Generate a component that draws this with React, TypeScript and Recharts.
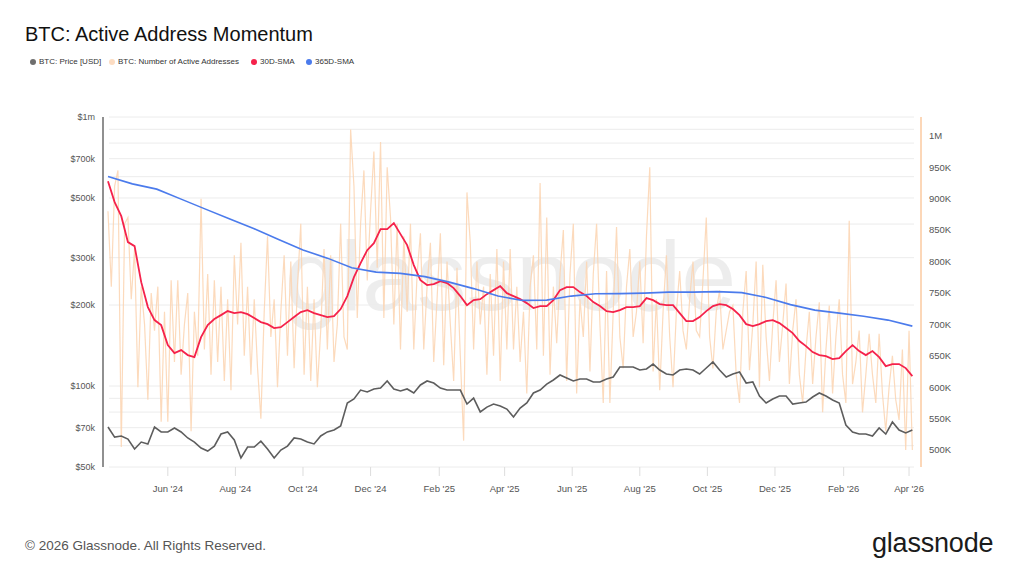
import { ComposedChart, Line, XAxis, YAxis, CartesianGrid } from "recharts";

const FONT = '"Liberation Sans", Arial, Helvetica, sans-serif';
const DAY = 86400000;
const START = Date.UTC(2024, 3, 8);

// BTC price in USD, one value every 6 days from START
const priceUsd = [
  70400, 64600, 65200, 63500, 58300, 61900, 60900, 70400, 67500, 67500,
  69800, 67500, 64100, 61900, 58800, 57300, 59800, 66300, 67500, 63000,
  54000, 59300, 59300, 62400, 58300, 54000, 57800, 59800, 64100, 63500,
  61900, 60900, 65200, 67500, 68600, 71000, 86500, 89500, 96600, 95000,
  97500, 98300, 104400, 97500, 95800, 97500, 94200, 100900, 104400, 102600,
  98300, 96600, 96600, 96600, 85700, 90200, 80100, 83500, 85700, 84300,
  82100, 76700, 82800, 86500, 94200, 96600, 101700, 105300, 109900, 107100,
  104400, 106200, 106200, 103500, 103500, 106200, 108000, 117700, 117700, 117700,
  114700, 115700, 120700, 114700, 110800, 109900, 114700, 115700, 114700, 110800,
  116700, 122800, 114700, 108000, 110800, 112700, 102600, 103500, 91800, 86500,
  89500, 91800, 91800, 85700, 86500, 87200, 91000, 94200, 91800, 88700,
  86500, 71600, 67500, 66300, 66300, 65200, 69800, 66300, 73500, 68600,
  66900, 68600,
];

// number of active addresses (thousands), one value every 3 days
const activeAddressesK = [
  880, 760, 920, 945, 505, 860, 870, 740, 820, 600,
  760, 700, 580, 750, 690, 760, 545, 720, 545, 770,
  640, 770, 620, 700, 750, 530, 720, 650, 900, 660,
  780, 620, 770, 640, 760, 610, 740, 595, 810, 700,
  830, 650, 760, 620, 740, 630, 550, 720, 840, 680,
  740, 600, 720, 810, 650, 800, 630, 760, 860, 620,
  760, 610, 740, 600, 690, 820, 660, 810, 640, 700,
  860, 680, 660, 1010, 920, 710, 860, 945, 770, 880,
  975, 790, 990, 710, 950, 870, 700, 860, 660, 840,
  720, 860, 660, 780, 845, 660, 760, 830, 640, 740,
  845, 635, 800, 700, 610, 790, 650, 515, 910, 830,
  660, 800, 700, 760, 620, 780, 650, 820, 610, 800,
  660, 820, 660, 760, 640, 720, 590, 760, 810, 660,
  925, 650, 870, 620, 760, 670, 780, 850, 610, 780,
  860, 590, 740, 680, 800, 625, 780, 860, 700, 575,
  785, 575, 720, 855, 680, 630, 760, 820, 680, 720,
  800, 670, 840, 950, 625, 740, 595, 720, 810, 680,
  600, 720, 785, 690, 660, 740, 800, 690, 680, 770,
  870, 680, 630, 720, 754, 660, 690, 720, 730, 620,
  575, 720, 785, 627, 700, 800, 600, 795, 680, 610,
  700, 770, 640, 700, 765, 605, 690, 740, 620, 575,
  660, 720, 605, 680, 735, 560, 660, 730, 590, 680,
  740, 620, 575, 865, 605, 640, 690, 560, 620, 685,
  620, 575, 685, 590, 530, 600, 650, 580, 548, 660,
  500, 690, 500,
];

// 30-day SMA of active addresses (thousands), every 6 days
const sma30K = [
  927.9, 894.5, 872.2, 830.9, 824.5, 767.2, 727.5, 706.8, 698.8, 667.0,
  654.3, 659.0, 651.1, 647.9, 679.7, 698.8, 708.4, 714.7, 721.1, 717.9,
  719.5, 716.3, 710.0, 703.6, 700.4, 694.1, 695.6, 703.6, 711.6, 719.5,
  722.7, 717.9, 714.7, 711.6, 713.1, 724.3, 745.0, 775.2, 797.5, 818.1,
  829.3, 851.6, 851.6, 861.1, 843.6, 826.1, 794.3, 770.4, 762.5, 764.1,
  768.8, 765.6, 757.7, 745.0, 730.6, 738.6, 740.2, 748.1, 754.5, 760.9,
  749.7, 745.0, 740.2, 733.8, 725.9, 729.1, 729.1, 738.6, 754.5, 759.3,
  759.3, 751.3, 745.0, 735.4, 729.1, 721.1, 719.5, 722.7, 727.5, 727.5,
  729.1, 741.8, 738.6, 732.2, 730.6, 730.6, 717.9, 705.2, 705.2, 711.6,
  721.1, 729.1, 732.2, 730.6, 724.3, 714.7, 700.4, 697.2, 700.4, 705.2,
  706.8, 702.0, 694.1, 686.1, 673.4, 665.4, 655.9, 651.1, 649.5, 644.7,
  646.3, 657.5, 667.0, 657.5, 651.1, 657.5, 647.9, 633.6, 636.8, 636.8,
  630.4, 617.7,
];

// 365-day SMA of active addresses (thousands), every 22 days
const sma365K = [
  935.4, 923.6, 915.2, 899.3, 883.4, 867.5, 852.0, 834.9, 818.2, 805.4,
  790.0, 783.2, 781.1, 776.0, 767.2, 756.9, 745.0, 738.1, 738.6, 745.0,
  748.6, 748.9, 749.7, 751.3, 751.3, 752.1, 750.5, 742.9, 731.4, 722.7,
  717.9, 712.8, 706.8, 697.2,
];

const priceTicks = [
  50000, 60000, 70000, 80000, 90000, 100000, 200000, 300000, 400000, 500000,
  600000, 700000, 800000, 900000, 1000000,
];
const priceLabels = [50000, 70000, 100000, 200000, 300000, 500000, 700000, 1000000];
const addressTicks = [500000, 550000, 600000, 650000, 700000, 750000, 800000, 850000, 900000, 950000, 1000000];
const monthTicks = [
  [2024, 5], [2024, 7], [2024, 9], [2024, 11], [2025, 1], [2025, 3],
  [2025, 5], [2025, 7], [2025, 9], [2025, 11], [2026, 1], [2026, 3],
].map(([y, m]) => Date.UTC(y, m, 1));
const MONTHS = ["Jan", "Feb", "Mar", "Apr", "May", "Jun", "Jul", "Aug", "Sep", "Oct", "Nov", "Dec"];

const legendItems = [
  { label: "BTC: Price [USD]", color: "#6e6e6e", left: 30 },
  { label: "BTC: Number of Active Addresses", color: "#fcdcc2", left: 109 },
  { label: "30D-SMA", color: "#f5224b", left: 251 },
  { label: "365D-SMA", color: "#4b7bec", left: 306 },
];

const series = (values: number[], stepDays: number, scale = 1) =>
  values.map((v, i) => ({ t: START + i * stepDays * DAY, v: v * scale }));

const priceData = series(priceUsd, 6);
const addressData = series(activeAddressesK, 3, 1000);
const sma30Data = series(sma30K, 6, 1000);
const sma365Data = series(sma365K, 22, 1000);

function fmtPrice(v: number) {
  if (!priceLabels.includes(v)) return "";
  return v >= 1000000 ? "$1m" : `$${v / 1000}k`;
}

function fmtAddresses(v: number) {
  return v >= 1000000 ? "1M" : `${v / 1000}K`;
}

function fmtMonth(t: number) {
  const d = new Date(t);
  return `${MONTHS[d.getUTCMonth()]} '${String(d.getUTCFullYear()).slice(2)}`;
}

export default function App() {
  return (
    <div
      style={{
        position: "fixed",
        top: 0,
        left: 0,
        width: 1024,
        height: 576,
        background: "#fff",
        fontFamily: FONT,
        overflow: "hidden",
      }}
    >
      <svg width={1024} height={576} style={{ position: "absolute", top: 0, left: 0 }}>
        <text x={285} y={310} fontSize={99} fill="#000" fillOpacity={0.07} fontFamily={FONT}>
          glassnode
        </text>
      </svg>

      <div style={{ position: "absolute", left: 25, top: 23, fontSize: 20, lineHeight: "23px", color: "#111" }}>
        BTC: Active Address Momentum
      </div>

      {legendItems.map((item) => (
        <div
          key={item.label}
          style={{
            position: "absolute",
            left: item.left,
            top: 57,
            fontSize: 8,
            lineHeight: "10px",
            color: "#333",
            display: "flex",
            alignItems: "center",
            whiteSpace: "nowrap",
          }}
        >
          <span
            style={{
              width: 6,
              height: 6,
              borderRadius: 3,
              background: item.color,
              display: "inline-block",
              marginRight: 3,
            }}
          />
          {item.label}
        </div>
      ))}

      <ComposedChart
        width={1024}
        height={576}
        margin={{ top: 117, right: 0, bottom: 0, left: 0 }}
        style={{ position: "absolute", top: 0, left: 0 }}
      >
        <CartesianGrid vertical={false} stroke="#ececec" yAxisId="price" x={109} width={805} />
        <XAxis
          type="number"
          dataKey="t"
          domain={[START - 4.5 * DAY, START + 733.8 * DAY]}
          allowDataOverflow
          ticks={monthTicks}
          interval={0}
          tickFormatter={fmtMonth}
          axisLine={false}
          tickLine={{ stroke: "#dddddd" }}
          tickSize={9}
          tickMargin={9}
          height={109}
          tick={{ fontSize: 9.5, fill: "#555", fontFamily: FONT }}
        />
        <YAxis
          yAxisId="price"
          orientation="left"
          width={103}
          scale="log"
          domain={[50000, 1000000]}
          allowDataOverflow
          ticks={priceTicks}
          interval={0}
          tickFormatter={fmtPrice}
          tickLine={false}
          axisLine={{ stroke: "#6b6b6b", strokeWidth: 1.5 }}
          tick={{ fontSize: 9, fill: "#555", fontFamily: FONT }}
        />
        <YAxis
          yAxisId="aa"
          orientation="right"
          width={103}
          domain={[473000, 1030000]}
          allowDataOverflow
          ticks={addressTicks}
          interval={0}
          tickFormatter={fmtAddresses}
          tickLine={false}
          axisLine={{ stroke: "#fcd7b8", strokeWidth: 2 }}
          tick={{ fontSize: 9.5, fill: "#555", fontFamily: FONT }}
        />
        <Line
          yAxisId="aa"
          data={addressData}
          dataKey="v"
          type="linear"
          stroke="#fbd3b0"
          strokeOpacity={0.85}
          strokeWidth={1.2}
          dot={false}
          isAnimationActive={false}
        />
        <Line
          yAxisId="price"
          data={priceData}
          dataKey="v"
          type="linear"
          stroke="#5d5d5d"
          strokeWidth={1.6}
          dot={false}
          isAnimationActive={false}
        />
        <Line
          yAxisId="aa"
          data={sma30Data}
          dataKey="v"
          type="linear"
          stroke="#f5224b"
          strokeWidth={1.8}
          dot={false}
          isAnimationActive={false}
        />
        <Line
          yAxisId="aa"
          data={sma365Data}
          dataKey="v"
          type="linear"
          stroke="#4b7bec"
          strokeWidth={1.6}
          dot={false}
          isAnimationActive={false}
        />
      </ComposedChart>

      <div style={{ position: "absolute", left: 25, top: 538, fontSize: 13.5, lineHeight: "16px", color: "#555" }}>
        © 2026 Glassnode. All Rights Reserved.
      </div>
      <div
        style={{
          position: "absolute",
          left: 872,
          top: 528,
          fontSize: 27,
          lineHeight: "30px",
          color: "#1b1b1b",
          letterSpacing: -0.2,
        }}
      >
        glassnode
      </div>
    </div>
  );
}
